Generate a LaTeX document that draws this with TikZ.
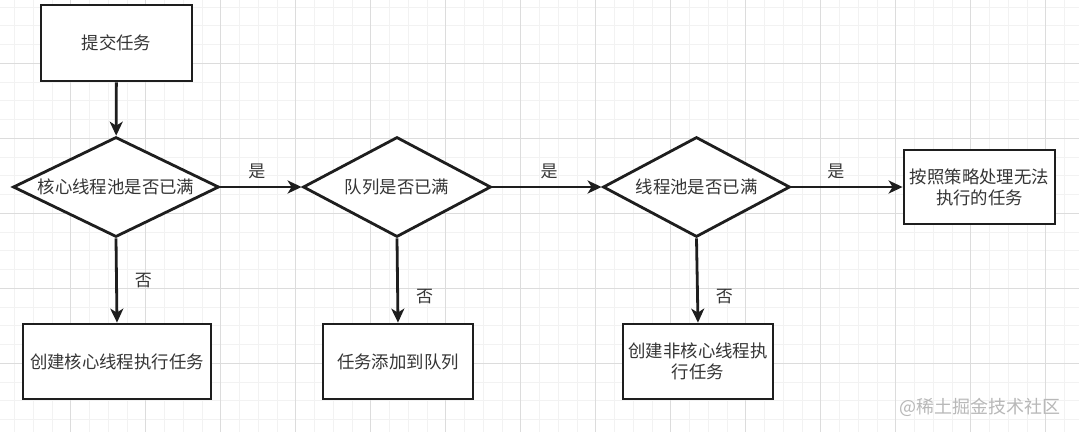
\documentclass[tikz,border=0pt]{standalone}
\usepackage{fontspec}
\newfontfamily\cjk{Noto Sans CJK SC}
\usetikzlibrary{arrows.meta,positioning,shapes.geometric}

\definecolor{inkc}{HTML}{1E1E1E}
\definecolor{gridmajor}{HTML}{DCDCDC}
\definecolor{gridminor}{HTML}{F2F2F2}
\definecolor{markc}{HTML}{B8B8B8}

\begin{document}
\begin{tikzpicture}[
    x=1pt, y=-1pt,
    % --- Styles ---
    task/.style={draw=inkc, line width=2.8pt, fill=white, inner sep=0pt,
                 align=center, font=\cjk\fontsize{17.4}{21}\selectfont, text=inkc!90},
    check/.style={task, diamond, aspect=2},
    lbl/.style={font=\cjk\fontsize{17}{20}\selectfont, text=inkc!90, inner sep=1pt},
    flow/.style={draw=inkc, line width=2.8pt, -{Stealth[length=14pt,width=13pt,inset=4pt]}},
    minorline/.style={draw=gridminor, line width=0.8pt},
    majorline/.style={draw=gridmajor, line width=0.8pt},
]
\useasboundingbox (0,0) rectangle (1079,432);
\fill[white] (0,0) rectangle (1079,432);

% === Background grid ===
\foreach \k in {0,...,57} {\draw[minorline] ({14.45+18.75*\k},0) -- ++(0,432);}
\foreach \k in {0,...,22} {\draw[minorline] (0,{7.05+18.75*\k}) -- ++(1079,0);}
\foreach \k in {0,...,14} {\draw[majorline] ({-4.3+75*\k},0) -- ++(0,432);}
\foreach \k in {0,...,5} {\draw[majorline] (0,{-11.7+75*\k}) -- ++(1079,0);}

% === Top row ===
\node[task, minimum width=151pt, minimum height=76pt] (submit) at (116.5,43) {提交任务};
\node[check, minimum width=206pt, minimum height=100pt] (corefull) at (116,187) {核心线程池是否已满};
\node[check, minimum width=188pt, minimum height=100pt] (queuefull) at (397,187) {队列是否已满};
\node[check, minimum width=187pt, minimum height=100pt] (poolfull) at (696.5,187) {线程池是否已满};
\node[task, minimum width=151pt, minimum height=74pt] (reject) at (979.5,187) {按照策略处理无法\\执行的任务};

% === Bottom row ===
\node[task, minimum width=188pt, minimum height=75pt] (newcore) at (117,361.5) {创建核心线程执行任务};
\node[task, minimum width=150pt, minimum height=75pt] (enqueue) at (398,361.5) {任务添加到队列};
\node[task, minimum width=150pt, minimum height=75pt] (newworker) at (698,361.5) {创建非核心线程执\\行任务};

% === Connectors ===
\draw[flow] (submit) -- (corefull);
\draw[flow] (corefull.east) -- node[lbl, pos=0.45, above=6pt] (yes1) {是} (queuefull.west);
\draw[flow] (queuefull.east) -- node[lbl, pos=0.52, above=6pt] (yes2) {是} (poolfull.west);
\draw[flow] (poolfull.east) -- node[lbl, pos=0.40, above=6pt] (yes3) {是} (reject.west);
\draw[flow] (corefull.south) -- node[lbl, pos=0.50, right=16pt] (no1) {否} (newcore.north);
\draw[flow] (queuefull.south) -- node[lbl, pos=0.69, right=16pt] (no2) {否} (enqueue.north);
\draw[flow] (poolfull.south) -- node[lbl, pos=0.69, right=16pt] (no3) {否} (newworker.north);

% === Watermark ===
\node[font=\cjk\fontsize{18}{20}\selectfont, text=markc, anchor=east] (mark) at (1064,407) {@稀土掘金技术社区};

\end{tikzpicture}
\end{document}
